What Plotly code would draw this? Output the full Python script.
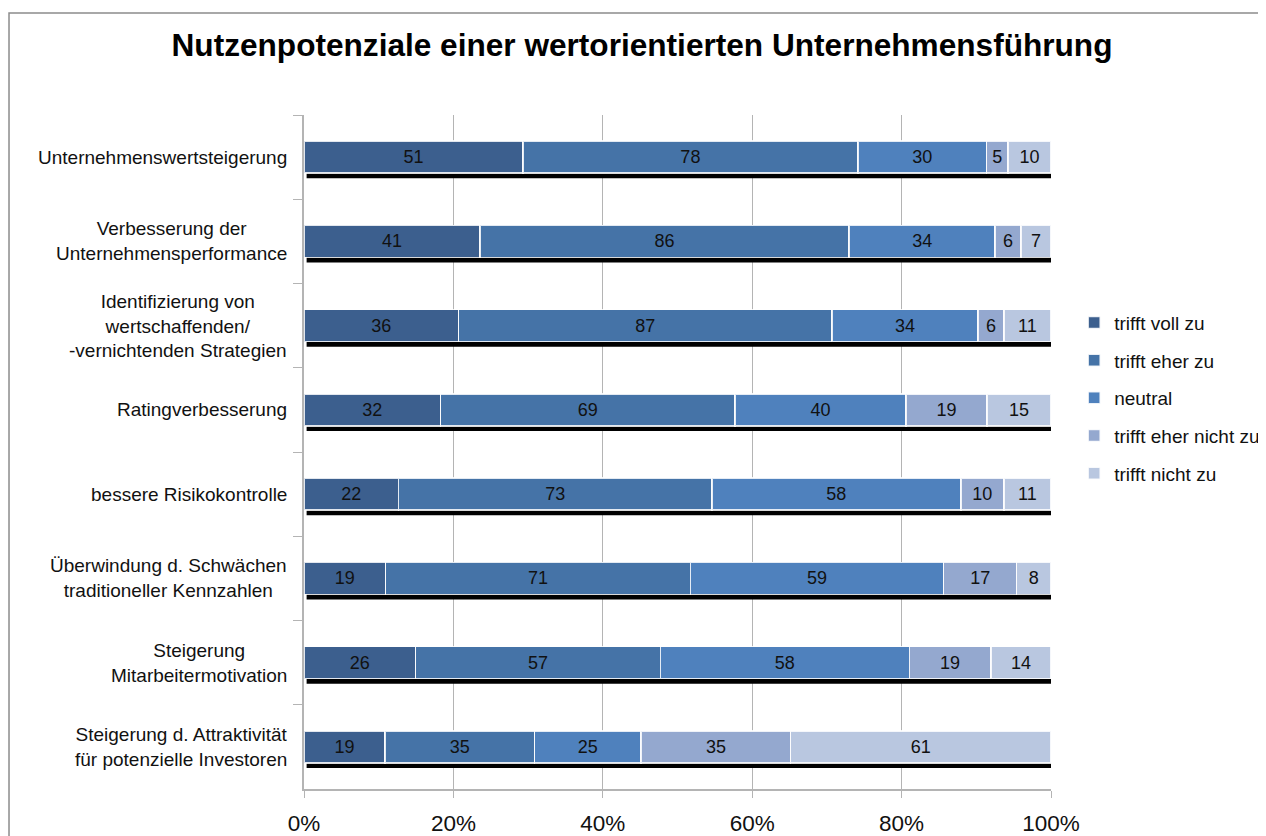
import plotly.graph_objects as go

# categories (top to bottom as in the chart)
categories = [
    "Unternehmenswertsteigerung",
    "Verbesserung der<br>Unternehmensperformance",
    "Identifizierung von<br>wertschaffenden/<br>-vernichtenden Strategien",
    "Ratingverbesserung",
    "bessere Risikokontrolle",
    "Überwindung d. Schwächen<br>traditioneller Kennzahlen",
    "Steigerung<br>Mitarbeitermotivation",
    "Steigerung d. Attraktivität<br>für potenzielle Investoren",
]

series_names = [
    "trifft voll zu",
    "trifft eher zu",
    "neutral",
    "trifft eher nicht zu",
    "trifft nicht zu",
]

voll_zu = [51, 41, 36, 32, 22, 19, 26, 19]
eher_zu = [78, 86, 87, 69, 73, 71, 57, 35]
neutral = [30, 34, 34, 40, 58, 59, 58, 25]
eher_nicht_zu = [5, 6, 6, 19, 10, 17, 19, 35]
nicht_zu = [10, 7, 11, 15, 11, 8, 14, 61]

series_values = [voll_zu, eher_zu, neutral, eher_nicht_zu, nicht_zu]
colors = ["#3C5F8E", "#4573A7", "#4F81BD", "#94A8CF", "#B9C7E0"]

x_ticks = [0, 20, 40, 60, 80, 100]

FONT = "Liberation Sans, Arial"
# the page body adds an 8px offset, compensate in the margins
OFF = 8

fig = go.Figure()

for i, (name, vals) in enumerate(zip(series_names, series_values)):
    fig.add_trace(go.Bar(
        y=categories,
        x=vals,
        name=name,
        orientation="h",
        marker=dict(color=colors[i], line=dict(color="rgba(255,255,255,0.85)", width=1.5)),
        text=vals,
        textposition="inside",
        insidetextanchor="middle",
        textangle=0,
        constraintext="none",
        textfont=dict(family=FONT, size=18, color="#111111"),
        legendgroup=name,
        hoverinfo="name+x",
    ))

# drop shadows behind each bar
shapes = []
for cat in categories:
    shapes.append(dict(
        type="rect", xref="x", yref="y", layer="between",
        x0=0.35, x1=100.4,
        ysizemode="pixel", yanchor=cat, y0=-21, y1=11,
        fillcolor="black", line=dict(width=0),
    ))

# outer chart border
shapes.append(dict(
    type="rect", xref="paper", yref="paper", layer="above",
    x0=-0.3949, x1=1.3, y0=-0.09, y1=1.1513,
    line=dict(color="#8C8C8C", width=1.5), fillcolor="rgba(0,0,0,0)",
))

# category labels, centred lines, right aligned block
annotations = []
for cat in categories:
    annotations.append(dict(
        x=0, xref="paper", xshift=-15, xanchor="right",
        y=cat, yref="y", yanchor="middle",
        text=cat, showarrow=False, align="center",
        font=dict(family=FONT, size=19, color="#111111"),
    ))

fig.update_layout(
    width=1266,
    height=836,
    barmode="stack",
    barnorm="percent",
    bargap=0.62,
    plot_bgcolor="white",
    paper_bgcolor="white",
    margin=dict(l=304 - OFF, r=1266 - 304 - 747 + OFF, t=115 - OFF, b=836 - 115 - 674 + OFF,
                autoexpand=False),
    title=dict(
        text="<b>Nutzenpotenziale einer wertorientierten Unternehmensführung</b>",
        x=(642 - OFF) / 1266, xref="container", xanchor="center",
        y=1 - (45 - OFF) / 836, yref="container", yanchor="middle",
        font=dict(family=FONT, size=31.6, color="#000000"),
    ),
    legend=dict(
        x=1.031, xanchor="left", y=0.58, yanchor="middle",
        traceorder="grouped",
        tracegroupgap=10,
        font=dict(family=FONT, size=19, color="#111111"),
        bgcolor="rgba(0,0,0,0)",
    ),
    shapes=shapes,
    annotations=annotations,
    showlegend=True,
)

fig.update_xaxes(
    range=[0, 100],
    tickvals=x_ticks,
    ticktext=[f"{t}%" for t in x_ticks],
    showgrid=True, gridcolor="#B4B4B4", gridwidth=1,
    showline=True, linecolor="#B4B4B4", linewidth=1.5,
    ticks="outside", ticklen=7, tickcolor="#B4B4B4",
    ticklabelstandoff=6,
    tickfont=dict(family=FONT, size=22.5, color="#111111"),
    zeroline=False,
    fixedrange=True,
)

fig.update_yaxes(
    autorange="reversed",
    showticklabels=False,
    showline=True, linecolor="#B4B4B4", linewidth=1.5,
    ticks="outside", ticklen=9, tickcolor="#B4B4B4",
    tickson="boundaries",
    showgrid=False,
    fixedrange=True,
)

fig.write_html("out.html")
